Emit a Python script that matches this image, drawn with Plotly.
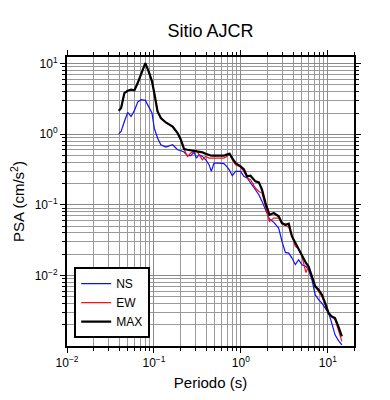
import plotly.graph_objects as go

period = [0.0394, 0.0419, 0.0457, 0.0499, 0.0545, 0.0596, 0.0650, 0.0710, 0.0796, 0.0869,
          0.0949, 0.1009, 0.110, 0.120, 0.137, 0.164, 0.187, 0.204, 0.222, 0.243,
          0.265, 0.290, 0.308, 0.330, 0.361, 0.394, 0.430, 0.457, 0.491, 0.560,
          0.638, 0.697, 0.741, 0.796, 0.869, 0.991, 1.08, 1.18, 1.29, 1.47,
          1.61, 1.75, 1.92, 2.13, 2.39, 2.72, 2.97, 3.25, 3.55, 3.87,
          4.23, 4.61, 5.04, 5.60, 6.01, 6.56, 7.16, 7.82, 8.54, 9.32,
          10.2, 11.1, 12.1, 13.2, 14.5]

ns = [1.01, 1.10, 1.52, 2.04, 1.79, 2.16, 2.86, 3.09, 3.02, 2.48,
      2.00, 1.22, 0.885, 0.711, 0.659, 0.711, 0.604, 0.585, 0.560, 0.497,
      0.497, 0.554, 0.460, 0.514, 0.486, 0.436, 0.371, 0.298, 0.391, 0.391,
      0.383, 0.343, 0.308, 0.259, 0.298, 0.298, 0.253, 0.240, 0.204, 0.164,
      0.139, 0.112, 0.0873, 0.0630, 0.0565, 0.0469, 0.0303, 0.0212, 0.0207, 0.0176,
      0.0142, 0.0167, 0.0142, 0.0134, 0.0120, 0.00869, 0.00533, 0.00453, 0.00406, 0.00345,
      0.00293, 0.00211, 0.00144, 0.00120, 0.00104]

ew = [2.16, 2.35, 3.84, 4.14, 4.28, 4.19, 5.32, 6.98, 10.2, 7.79,
      5.62, 3.84, 2.11, 1.70, 1.47, 1.29, 1.04, 0.838, 0.618, 0.486,
      0.542, 0.573, 0.591, 0.514, 0.436, 0.486, 0.460, 0.460, 0.460, 0.460,
      0.460, 0.486, 0.531, 0.436, 0.371, 0.343, 0.298, 0.240, 0.227, 0.173,
      0.155, 0.147, 0.0951, 0.0583, 0.0650, 0.0650, 0.0541, 0.0506, 0.0484, 0.0357,
      0.0258, 0.0240, 0.0186, 0.0110, 0.0134, 0.00918, 0.0070, 0.00594, 0.00505, 0.00385,
      0.00293, 0.00262, 0.00236, 0.00170, 0.00116]

mx = [2.16, 2.35, 3.84, 4.14, 4.28, 4.19, 5.32, 6.98, 10.2, 7.79,
      5.62, 3.84, 2.11, 1.70, 1.47, 1.29, 1.04, 0.838, 0.618, 0.604,
      0.591, 0.585, 0.579, 0.573, 0.554, 0.531, 0.508, 0.497, 0.497, 0.497,
      0.497, 0.519, 0.531, 0.460, 0.391, 0.351, 0.321, 0.253, 0.259, 0.215,
      0.208, 0.164, 0.106, 0.0724, 0.0766, 0.0687, 0.0552, 0.0523, 0.0541, 0.0357,
      0.0288, 0.0240, 0.0196, 0.0150, 0.0134, 0.00968, 0.0070, 0.00627, 0.00533, 0.00406,
      0.00293, 0.00262, 0.00249, 0.00190, 0.00137]

x_tickvals = [0.01, 0.1, 1, 10]
x_ticktext = ["10<sup>−2</sup>", "10<sup>−1</sup>", "10<sup>0</sup>", "10<sup>1</sup>"]
y_tickvals = [0.01, 0.1, 1, 10]
y_ticktext = ["10<sup>−2</sup>", "10<sup>−1</sup>", "10<sup>0</sup>", "10<sup>1</sup>"]

minor_x = [m * 10 ** k for k in range(-2, 2) for m in range(2, 10)]
minor_y = [m * 10 ** k for k in range(-3, 2) for m in range(2, 10)]

font = "Liberation Sans, Arial, Helvetica, sans-serif"

fig = go.Figure()
fig.add_trace(go.Scatter(x=period, y=ns, mode="lines", name="NS",
                         line=dict(color="#1010ff", width=1.2)))
fig.add_trace(go.Scatter(x=period, y=ew, mode="lines", name="EW",
                         line=dict(color="#ff1010", width=1.2)))
fig.add_trace(go.Scatter(x=period, y=mx, mode="lines", name="MAX",
                         line=dict(color="black", width=2.2)))

axis_common = dict(
    type="log", showline=True, linecolor="black", linewidth=2, mirror="ticks",
    ticks="outside", ticklen=5, tickwidth=1, tickcolor="black", automargin=False,
    showgrid=True, gridcolor="#8a8a8a", gridwidth=1, zeroline=False,
    tickfont=dict(size=12, color="black", family=font),
)

fig.update_xaxes(range=[-2, 1.301], tickvals=x_tickvals, ticktext=x_ticktext,
                 title=dict(text="Periodo (s)", font=dict(size=15, color="black", family=font), standoff=8),
                 minor=dict(tickvals=minor_x, ticks="outside", ticklen=3, tickcolor="black",
                            showgrid=True, gridcolor="#9a9a9a", gridwidth=1),
                 **axis_common)
fig.update_yaxes(range=[-3, 1.095], tickvals=y_tickvals, ticktext=y_ticktext,
                 title=dict(text="PSA (cm/s<sup>2</sup>)", font=dict(size=15, color="black", family=font), standoff=8),
                 minor=dict(tickvals=minor_y, ticks="outside", ticklen=3, tickcolor="black",
                            showgrid=True, gridcolor="#9a9a9a", gridwidth=1),
                 **axis_common)

fig.update_layout(
    width=382, height=392,
    margin=dict(l=59, r=36, t=49, b=54),
    paper_bgcolor="white", plot_bgcolor="white",
    title=dict(text="Sitio AJCR", x=0.530, xanchor="center", y=0.941, yanchor="middle",
               yref="container", font=dict(size=18, color="black", family=font)),
    font=dict(family=font, color="black"),
    legend=dict(x=0.025, y=0.273, xanchor="left", yanchor="top",
                bgcolor="white", bordercolor="black", borderwidth=2,
                font=dict(size=12, color="black", family=font),
                itemwidth=30, tracegroupgap=0, entrywidth=50, entrywidthmode="pixels"),
    showlegend=True,
)

fig.write_html("out.html")
